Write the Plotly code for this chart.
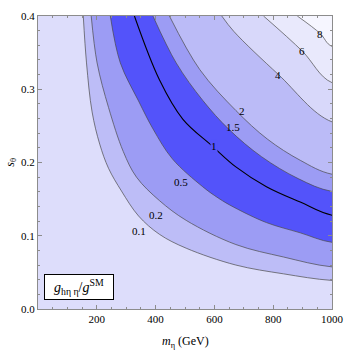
import plotly.graph_objects as go

# contour levels of g_h_eta_eta / g_SM
levels = [0.1, 0.2, 0.5, 1, 1.5, 2, 4, 6, 8]
level_text = ["0.1", "0.2", "0.5", "1", "1.5", "2", "4", "6", "8"]

# contour lines: m_eta (GeV) and s_theta,
# each one running from the top edge to the right edge
m_01 = [154, 165, 184, 210, 240, 284, 342, 413, 504, 673, 835, 1000]
s_01 = [0.400, 0.336, 0.269, 0.225, 0.192, 0.161, 0.127, 0.102, 0.083, 0.060, 0.048, 0.039]

m_02 = [181, 201, 240, 290, 335, 413, 504, 673, 835, 1000]
s_02 = [0.400, 0.336, 0.275, 0.215, 0.180, 0.148, 0.121, 0.088, 0.071, 0.0575]

m_05 = [246, 280, 342, 391, 457, 560, 615, 666, 777, 892, 1000]
s_05 = [0.400, 0.336, 0.284, 0.246, 0.205, 0.167, 0.151, 0.139, 0.118, 0.104, 0.091]

m_1 = [328, 413, 493, 594, 673, 777, 892, 1000]
s_1 = [0.400, 0.313, 0.259, 0.222, 0.194, 0.167, 0.146, 0.128]

m_15 = [391, 470, 560, 650, 760, 885, 1000]
s_15 = [0.400, 0.336, 0.285, 0.245, 0.208, 0.178, 0.1605]

m_2 = [447, 550, 673, 780, 892, 1000]
s_2 = [0.400, 0.327, 0.271, 0.232, 0.203, 0.184]

m_4 = [625, 666, 818, 1000]
s_4 = [0.400, 0.379, 0.320, 0.2555]

m_6 = [767, 899, 1000]
s_6 = [0.400, 0.352, 0.309]

m_8 = [882, 960, 1000]
s_8 = [0.400, 0.376, 0.3585]

curves_m = [m_01, m_02, m_05, m_1, m_15, m_2, m_4, m_6, m_8]
curves_s = [s_01, s_02, s_05, s_1, s_15, s_2, s_4, s_6, s_8]

# where the level labels sit
label_m = [342, 403, 487, 598, 663, 693, 818, 899, 960]
label_s = [0.107, 0.128, 0.174, 0.223, 0.249, 0.270, 0.320, 0.352, 0.376]

# shading of the region above each level
bg_color = "#DDDDFB"
fill_colors = ["#BDBDF7", "#9C9CF4", "#5353FA", "#5353FA", "#9C9CF4",
               "#BBBBF7", "#D8D8FA", "#E9E9FC", "#F6F6FF"]

x_range = [0, 1000]
y_range = [0, 0.4]
serif = "Liberation Serif"

fig = go.Figure()

# nested regions, lowest level first; the closing points lie outside the frame
x_out = x_range[1] * 1.2
y_out = y_range[1] * 1.2
for lev, m, s, col in zip(levels, curves_m, curves_s, fill_colors):
    fig.add_trace(go.Scatter(
        x=m + [x_out, x_out, m[0]],
        y=s + [s[-1], y_out, y_out],
        mode="lines", fill="toself", fillcolor=col,
        line=dict(color="black" if lev == 1 else "#4a4a4a",
                  width=1.1 if lev == 1 else 0.7, shape="spline"),
        hoverinfo="skip", showlegend=False))

for lev, t, xm, ys in zip(levels, level_text, label_m, label_s):
    fig.add_annotation(x=xm, y=ys, text=t, showarrow=False,
                       bgcolor=fill_colors[3] if lev == 1 else None, borderpad=0,
                       font=dict(family=serif, size=11, color="black"))

# box with the plotted quantity
fig.add_annotation(x=139, y=0.0294,
                   text="&nbsp;&nbsp;<i>g</i><sub>hη η</sub>/<i>g</i><sup>SM</sup>&nbsp;&nbsp;",
                   showarrow=False, bgcolor="white", bordercolor="black",
                   borderwidth=1, borderpad=2,
                   font=dict(family=serif, size=14, color="black"))

fig.add_annotation(xref="paper", yref="paper", x=0.5, y=-0.1137,
                   xanchor="center", yanchor="middle",
                   text="<i>m</i><sub>η</sub> (GeV)", showarrow=False,
                   font=dict(family=serif, size=12, color="black"))
fig.add_annotation(xref="paper", yref="paper", x=-0.0946, y=0.5, textangle=-90,
                   xanchor="center", yanchor="middle",
                   text="<i>s</i><sub>θ</sub>", showarrow=False,
                   font=dict(family=serif, size=12, color="black"))

axis_style = dict(showgrid=False, zeroline=False, showline=True, linecolor="#8c8c8c",
                  linewidth=1, mirror="allticks", ticks="inside", ticklen=4,
                  tickcolor="#8c8c8c", tickfont=dict(family=serif, size=11, color="black"))

fig.update_xaxes(range=x_range, tickvals=[200, 400, 600, 800, 1000],
                 minor=dict(ticks="inside", dtick=50, ticklen=2, tickcolor="#8c8c8c"),
                 **axis_style)
fig.update_yaxes(range=y_range, tickvals=[0, 0.1, 0.2, 0.3, 0.4], tickformat=".1f",
                 minor=dict(ticks="inside", dtick=0.02, ticklen=2, tickcolor="#8c8c8c"),
                 **axis_style)

fig.update_layout(width=354, height=352, margin=dict(l=38, r=20, t=10, b=43),
                  plot_bgcolor=bg_color, paper_bgcolor="white")

# drop the page's default body margin so the figure sits at the top left corner
fig.write_html("out.html", config={"displayModeBar": False},
               post_script="document.body.style.margin = '0';")
